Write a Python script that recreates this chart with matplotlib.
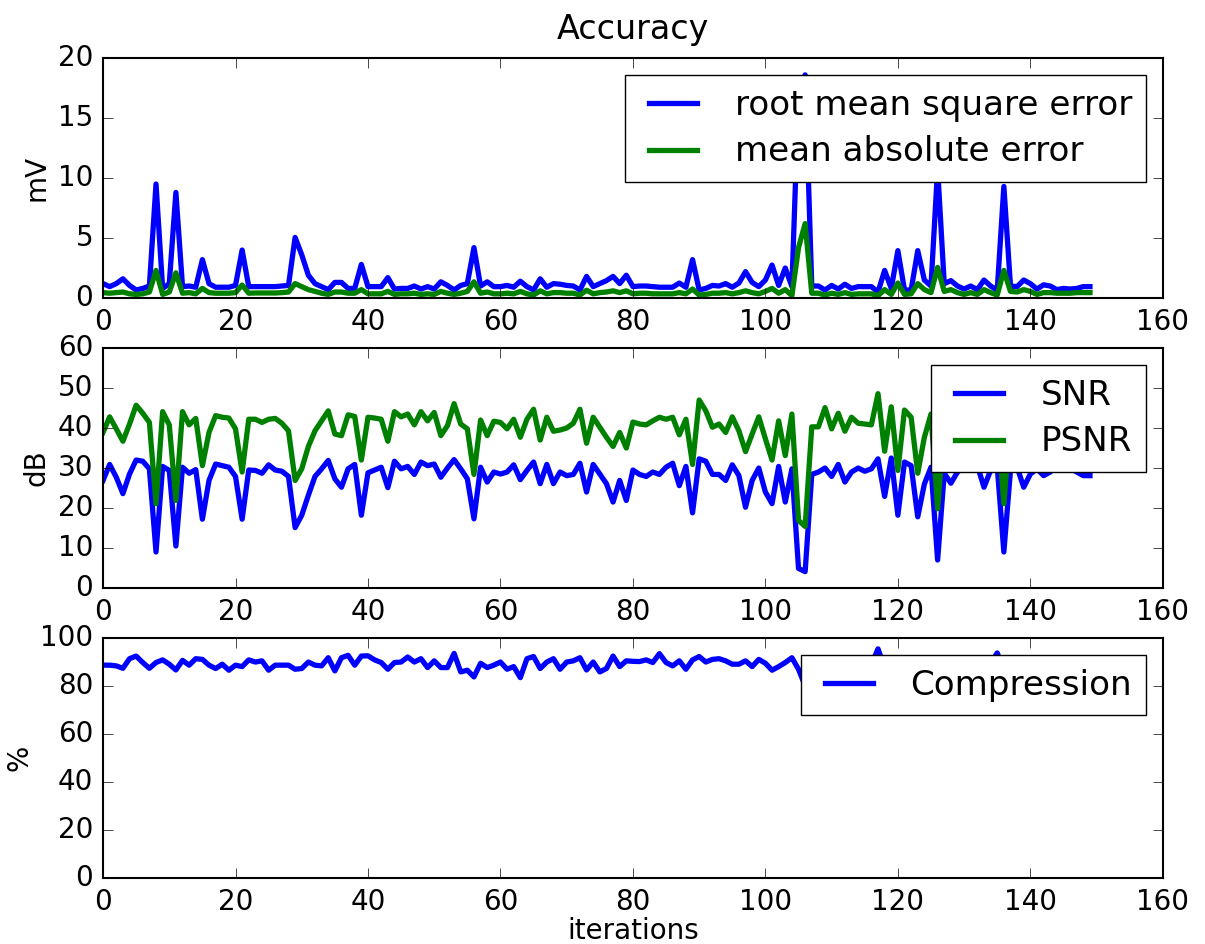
import numpy as np
import matplotlib
matplotlib.use("Agg")
import matplotlib.pyplot as plt

rmse = [1.2, 0.95, 1.2, 1.6, 1.05, 0.67, 0.8, 1.0, 9.5, 0.8,
        1.2, 8.8, 0.95, 1.0, 0.9, 3.2, 1.2, 0.9, 0.9, 0.9,
        1.05, 4.0, 0.95, 0.95, 0.95, 0.95, 0.95, 1.0, 1.05, 5.05,
        3.6, 1.9, 1.2, 0.95, 0.7, 1.3, 1.3, 0.8, 0.8, 2.8,
        0.95, 0.95, 0.95, 1.7, 0.75, 0.8, 0.8, 1.0, 0.75, 0.95,
        0.75, 1.35, 1.05, 0.67, 1.05, 1.2, 4.2, 1.0, 1.35, 0.95,
        0.95, 1.05, 0.9, 1.4, 0.95, 0.67, 1.6, 0.9, 1.2, 1.15,
        1.05, 1.0, 0.67, 1.8, 0.95, 1.2, 1.45, 1.8, 1.2, 1.9,
        0.95, 1.0, 1.0, 0.95, 0.9, 0.9, 0.9, 1.25, 0.9, 3.2,
        0.67, 0.8, 1.05, 1.0, 1.2, 0.9, 1.25, 2.2, 1.3, 0.95,
        1.5, 2.75, 1.05, 2.5, 0.95, 17.0, 18.6, 1.0, 1.0, 0.67,
        1.05, 0.75, 1.15, 0.8, 0.95, 0.95, 0.95, 0.5, 2.3, 0.8,
        3.95, 0.67, 0.67, 3.95, 1.5, 1.0, 10.8, 1.2, 1.45, 1.0,
        0.75, 1.0, 0.7, 1.5, 1.0, 0.65, 9.3, 1.0, 0.95, 1.5,
        1.2, 0.75, 1.1, 1.0, 0.7, 0.8, 0.75, 0.8, 0.95, 0.95]

mae = [0.45, 0.4, 0.45, 0.5, 0.35, 0.3, 0.35, 0.5, 2.3, 0.3,
       0.5, 2.1, 0.4, 0.45, 0.35, 0.8, 0.45, 0.4, 0.4, 0.4,
       0.45, 1.08, 0.4, 0.42, 0.42, 0.42, 0.42, 0.45, 0.5, 1.2,
       0.95, 0.7, 0.55, 0.4, 0.3, 0.5, 0.5, 0.4, 0.4, 0.7,
       0.35, 0.35, 0.35, 0.55, 0.3, 0.35, 0.35, 0.4, 0.3, 0.35,
       0.3, 0.55, 0.4, 0.3, 0.4, 0.55, 1.35, 0.4, 0.5, 0.35,
       0.35, 0.4, 0.35, 0.55, 0.35, 0.25, 0.6, 0.35, 0.45, 0.45,
       0.4, 0.4, 0.25, 0.65, 0.35, 0.45, 0.5, 0.6, 0.45, 0.6,
       0.35, 0.4, 0.4, 0.35, 0.35, 0.35, 0.35, 0.45, 0.35, 0.75,
       0.25, 0.3, 0.4, 0.4, 0.45, 0.35, 0.45, 0.6, 0.45, 0.35,
       0.55, 0.8, 0.4, 0.7, 0.2, 4.2, 6.2, 0.4, 0.4, 0.25,
       0.4, 0.3, 0.45, 0.3, 0.35, 0.35, 0.35, 0.2, 0.7, 0.3,
       1.25, 0.3, 0.35, 1.2, 0.7, 0.45, 2.55, 0.55, 0.7, 0.45,
       0.3, 0.45, 0.3, 0.7, 0.45, 0.25, 2.3, 0.55, 0.5, 0.7,
       0.55, 0.3, 0.45, 0.45, 0.4, 0.4, 0.4, 0.45, 0.45, 0.45]

snr = [26.9, 30.9, 27.7, 23.6, 28.5, 32.0, 31.7, 29.8, 9.0, 30.4,
       29.4, 10.5, 30.2, 28.7, 29.6, 17.2, 26.9, 31.0, 30.6, 30.2,
       27.9, 17.2, 29.5, 29.4, 28.7, 30.8, 29.5, 29.2, 27.9, 15.1,
       18.2, 23.2, 27.9, 29.8, 31.9, 27.3, 25.2, 29.8, 30.9, 18.2,
       28.8, 29.5, 30.2, 25.1, 31.7, 29.8, 30.4, 28.4, 31.5, 30.6,
       31.0, 27.7, 30.0, 32.1, 29.8, 27.3, 17.3, 30.2, 26.5, 29.0,
       28.5, 29.0, 30.8, 27.1, 29.4, 31.5, 26.1, 30.9, 26.1, 29.0,
       28.1, 28.4, 31.2, 24.0, 30.9, 28.5, 26.1, 21.5, 26.9, 21.9,
       29.5, 28.4, 27.9, 29.0, 28.4, 30.2, 31.2, 25.6, 30.4, 18.8,
       32.3, 31.7, 28.4, 28.4, 26.9, 30.8, 28.1, 20.2, 26.9, 30.0,
       24.0, 21.1, 30.4, 21.5, 29.8, 4.9, 4.1, 28.4, 29.0, 30.0,
       27.9, 30.9, 26.5, 29.0, 30.0, 29.2, 29.8, 32.3, 22.9, 32.5,
       18.2, 31.5, 30.6, 17.8, 26.0, 30.2, 7.0, 28.7, 26.2, 29.0,
       30.4, 29.4, 30.6, 25.2, 29.4, 30.4, 9.0, 29.4, 30.2, 25.2,
       28.5, 29.8, 28.1, 29.0, 31.0, 30.4, 30.0, 29.0, 28.1, 28.1]

psnr = [38.9, 42.8, 39.8, 36.7, 41.0, 45.7, 43.7, 41.4, 21.1, 44.1,
        40.8, 21.9, 44.1, 40.8, 42.4, 30.6, 38.9, 43.1, 42.7, 42.5,
        39.8, 29.0, 42.2, 42.2, 41.4, 42.2, 42.4, 41.2, 39.3, 26.9,
        29.8, 35.4, 39.3, 41.8, 44.3, 38.5, 38.1, 43.3, 42.9, 32.0,
        42.7, 42.5, 42.2, 36.7, 44.1, 42.8, 43.5, 40.8, 44.1, 41.8,
        43.9, 38.1, 40.6, 46.1, 41.0, 39.8, 28.4, 42.0, 38.1, 41.7,
        41.4, 39.8, 42.2, 37.7, 42.2, 44.7, 37.0, 42.7, 39.2, 39.5,
        40.0, 41.2, 44.7, 36.2, 42.7, 40.2, 37.7, 35.4, 38.9, 35.0,
        41.5, 41.0, 40.8, 41.8, 42.7, 42.2, 42.7, 38.3, 42.2, 30.9,
        47.0, 44.3, 40.2, 41.0, 38.9, 42.8, 39.3, 34.1, 38.5, 42.8,
        37.3, 32.0, 41.8, 33.1, 43.5, 16.9, 15.4, 40.3, 40.3, 45.1,
        39.8, 43.7, 39.2, 42.7, 41.2, 41.0, 40.8, 48.6, 34.2, 45.3,
        29.4, 44.5, 42.7, 28.7, 37.7, 43.5, 19.8, 40.9, 38.4, 41.2,
        42.6, 41.6, 42.8, 37.4, 41.6, 42.6, 21.1, 41.6, 42.4, 37.4,
        40.7, 42.0, 40.3, 41.2, 43.2, 42.6, 42.2, 41.2, 40.3, 40.3]

compression = [88.7, 88.7, 88.4, 87.4, 91.4, 92.5, 89.8, 87.4, 89.8, 90.9,
               89.1, 86.7, 90.7, 88.7, 91.4, 91.1, 88.7, 87.3, 89.1, 86.6,
               88.7, 88.1, 90.9, 90.0, 90.5, 86.6, 88.7, 88.7, 88.7, 87.0,
               87.3, 90.0, 88.7, 88.4, 91.8, 86.3, 91.8, 92.8, 88.7, 92.5,
               92.6, 90.9, 89.8, 87.0, 89.8, 90.0, 92.1, 90.0, 91.4, 87.7,
               90.5, 87.7, 87.7, 93.6, 85.9, 86.6, 83.8, 89.5, 87.7, 88.7,
               90.0, 87.0, 88.1, 83.5, 91.4, 92.3, 87.3, 90.0, 91.4, 87.0,
               90.0, 90.5, 91.8, 86.7, 90.0, 85.9, 87.3, 92.5, 88.1, 90.5,
               90.3, 90.2, 90.9, 89.8, 93.5, 89.8, 88.4, 90.5, 87.0, 90.9,
               92.3, 90.0, 91.1, 91.4, 90.5, 89.1, 89.1, 90.5, 88.1, 91.1,
               89.5, 86.6, 88.1, 89.8, 91.8, 87.0, 80.0, 89.5, 90.2, 88.6,
               89.9, 91.0, 87.8, 90.4, 89.2, 90.8, 88.9, 95.5, 87.5, 90.6,
               89.0, 91.2, 88.3, 90.1, 89.4, 91.5, 86.5, 90.0, 88.8, 90.7,
               89.3, 91.1, 88.9, 90.2, 89.6, 93.8, 86.0, 90.4, 89.5, 88.0,
               90.8, 89.7, 91.3, 88.9, 90.0, 89.2, 91.0, 89.8, 90.2, 89.5]

plt.style.use('classic')
plt.rcParams['font.size'] = 20
plt.rcParams['legend.fontsize'] = 24.6
plt.rcParams['legend.labelspacing'] = 0.4
plt.rcParams['xtick.major.size'] = 7
plt.rcParams['ytick.major.size'] = 7
plt.rcParams['xtick.minor.size'] = 0
plt.rcParams['ytick.minor.size'] = 0
plt.rcParams['axes.linewidth'] = 1.5
plt.rcParams['xtick.major.pad'] = 7
plt.rcParams['ytick.major.pad'] = 7

x = np.arange(len(rmse))
lw = 3.8

fig = plt.figure(figsize=(12.05, 9.44), dpi=100, facecolor='white')
left, width, h = 0.0855, 0.8795, 0.2542
ax1 = fig.add_axes([left, 0.6843, width, h])
ax2 = fig.add_axes([left, 0.3771, width, h])
ax3 = fig.add_axes([left, 0.0699, width, h])

ax1.plot(x, rmse, color='b', lw=lw, label='root mean square error')
ax1.plot(x, mae, color='g', lw=lw, label='mean absolute error')
ax1.set_ylim(0, 20)
ax1.set_yticks([0, 5, 10, 15, 20])
ax1.set_ylabel('mV')
ax1.set_title('Accuracy', fontsize=24, y=1.05)
ax1.legend(loc='upper right')

ax2.plot(x, snr, color='b', lw=lw, label='SNR')
ax2.plot(x, psnr, color='g', lw=lw, label='PSNR')
ax2.set_ylim(0, 60)
ax2.set_ylabel('dB')
ax2.legend(loc='upper right')

ax3.plot(x, compression, color='b', lw=lw, label='Compression')
ax3.set_ylim(0, 100)
ax3.set_ylabel('%')
ax3.set_xlabel('iterations', labelpad=1)
ax3.legend(loc='upper right')

for ax in (ax1, ax2, ax3):
    ax.set_xlim(0, 160)
    ax.set_xticks(range(0, 161, 20))
    ax.set_facecolor('white')

fig.savefig('out.png', dpi=100, facecolor='white')
